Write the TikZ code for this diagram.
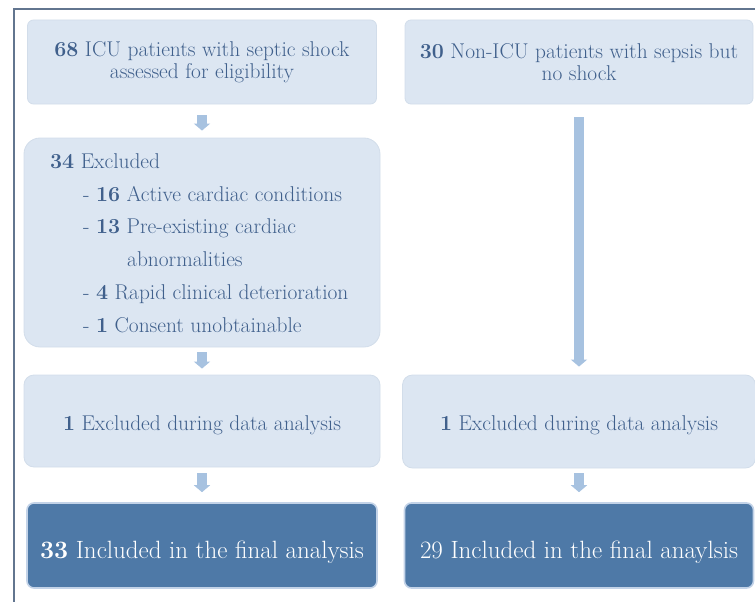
\documentclass[tikz,border=0pt]{standalone}
\usepackage{fontspec}
\usetikzlibrary{arrows.meta}
\definecolor{lightfill}{HTML}{DCE6F2}
\definecolor{darkfill}{HTML}{4E79A7}
\definecolor{arrowfill}{HTML}{A7C2E0}
\definecolor{txt}{HTML}{40608C}
\definecolor{framecol}{HTML}{62758F}
\definecolor{softedge}{HTML}{D2DDEA}
\definecolor{glow}{HTML}{C3D3E8}
\tikzset{
  lightbox/.style={fill=lightfill, draw=softedge, line width=0.8pt, rounded corners=6pt,
    text=txt, font=\fontsize{21.4}{22.5}\selectfont, align=center, inner sep=0pt},
  darkbox/.style={fill=darkfill, draw=glow, line width=1.6pt, rounded corners=7pt,
    text=white, font=\fontsize{25}{27}\selectfont, align=center, inner sep=0pt,
    text height=25pt, text depth=0pt},
  listtext/.style={text=txt, font=\fontsize{21.4}{22}\selectfont, inner sep=0pt, anchor=base west},
  flowarrow/.style={draw=arrowfill, line width=10pt, -{Triangle[width=16pt,length=7pt]}},
}
\begin{document}
\begin{tikzpicture}[x=1pt,y=-1pt]
\useasboundingbox (0,0) rectangle (755,602);
% frame
\draw[framecol, line width=2pt] (14,604) -- (14,9) -- (757,9);
% boxes
\node[lightbox, minimum width=349pt, minimum height=84pt] (b1) at (202,62)
  {\textbf{68} ICU patients with septic shock\\assessed for eligibility};
\node[lightbox, minimum width=348pt, minimum height=84pt] (b2) at (579,62)
  {\textbf{30} Non-ICU patients with sepsis but\\no shock};
\node[lightbox, rounded corners=16pt, minimum width=356pt, minimum height=209pt] (b3) at (202,242.5) {};
\node[lightbox, rounded corners=10pt, minimum width=356pt, minimum height=92pt,
  text height=18pt, text depth=0pt] (b4) at (202,421)
  {\textbf{1} Excluded during data analysis};
\node[lightbox, rounded corners=10pt, minimum width=353pt, minimum height=93pt,
  text height=18pt, text depth=0pt] (b5) at (579,421.5)
  {\textbf{1} Excluded during data analysis};
\node[darkbox, minimum width=350pt, minimum height=85pt] (b6) at (202,545.5)
  {\textbf{33} Included in the final analysis};
\node[darkbox, minimum width=349pt, minimum height=85pt] (b7) at (579,545.5)
  {29 Included in the final anaylsis};
% list text in b3
\node[listtext] (t0) at (50,168) {\textbf{34} Excluded};
\node[listtext] (t1) at (83,201) {- \textbf{16} Active cardiac conditions};
\node[listtext] (t2) at (83,233) {- \textbf{13} Pre-existing cardiac};
\node[listtext] (t3) at (127,266) {abnormalities};
\node[listtext] (t4) at (83,299) {- \textbf{4} Rapid clinical deterioration};
\node[listtext] (t5) at (83,332) {- \textbf{1} Consent unobtainable};
% arrows
\draw[flowarrow, shorten <=11pt, shorten >=7pt] (b1.south) -- (b3.north);
\draw[flowarrow, shorten <=5pt, shorten >=6pt] (b3.south) -- (b4.north);
\draw[flowarrow, shorten <=6pt, shorten >=10pt] (b4.south) -- (b6.north);
\draw[flowarrow, shorten <=13pt, shorten >=8pt] (b2.south) -- (b5.north);
\draw[flowarrow, shorten <=5pt, shorten >=10pt] (b5.south) -- (b7.north);
\end{tikzpicture}
\end{document}
